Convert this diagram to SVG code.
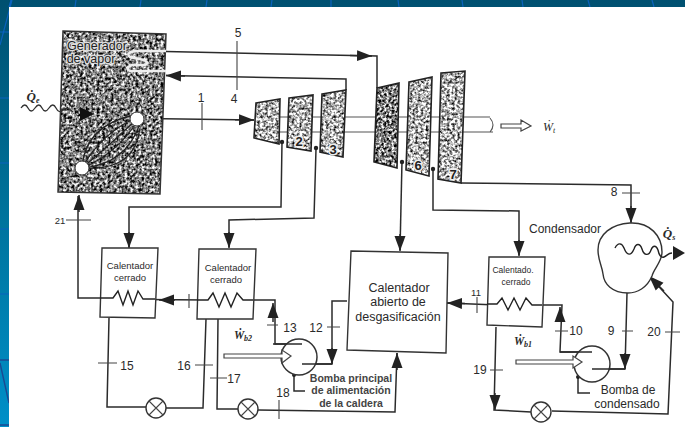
<svg xmlns="http://www.w3.org/2000/svg" width="685" height="427" viewBox="0 0 685 427">
<style>
text{font-family:"Liberation Sans",Arial,sans-serif;fill:#2a2a2a;text-anchor:middle}
.l{fill:none;stroke:#2b2b2b;stroke-width:1.5}
.t{fill:none;stroke:#444;stroke-width:1.1}
.a{fill:none;stroke:#2b2b2b;stroke-width:1.5;marker-end:url(#ah)}
.n{font-size:12px}
.h{font-size:13px;font-weight:bold;fill:#222;stroke:#eee;stroke-width:3;paint-order:stroke}
.s{font-size:9.5px}
.b{font-size:10.5px;font-weight:bold;fill:#444}
.box{fill:#fff;stroke:#333;stroke-width:1.4}
.tb{stroke:#222;stroke-width:1.6;fill:none}
.hol{fill:#fff;stroke:#444;stroke-width:1.2}
.g{fill:none;stroke:#222;stroke-width:1.3}
.d{fill:#222}
.m{font-family:"Liberation Serif",serif;font-style:italic}
</style>
<defs>
<linearGradient id="bg" x1="0" y1="0" x2="0" y2="1"><stop offset="0" stop-color="#005070"/><stop offset="0.5" stop-color="#00739c"/><stop offset="1" stop-color="#008fc8"/></linearGradient>
<marker id="ah" markerUnits="userSpaceOnUse" markerWidth="16" markerHeight="12" refX="15" refY="6" orient="auto"><path d="M0 0.5L15 6L0 11.5z" fill="#222"/></marker>
<filter id="dark" x="0" y="0" width="1" height="1" color-interpolation-filters="sRGB"><feTurbulence type="fractalNoise" baseFrequency="0.36" numOctaves="2" seed="4"/><feColorMatrix type="matrix" values="2.200 0 0 0 -0.6 2.200 0 0 0 -0.6 2.200 0 0 0 -0.6 0 0 0 0 1"/><feGaussianBlur stdDeviation="0.6"/><feComposite in2="SourceAlpha" operator="in"/></filter>
<filter id="mid" x="0" y="0" width="1" height="1" color-interpolation-filters="sRGB"><feTurbulence type="fractalNoise" baseFrequency="0.38" numOctaves="2" seed="9"/><feColorMatrix type="matrix" values="2.400 0 0 0 -0.7 2.400 0 0 0 -0.7 2.400 0 0 0 -0.7 0 0 0 0 1"/><feGaussianBlur stdDeviation="0.5"/><feComposite in2="SourceAlpha" operator="in"/></filter>
<filter id="lite" x="0" y="0" width="1" height="1" color-interpolation-filters="sRGB"><feTurbulence type="fractalNoise" baseFrequency="0.38" numOctaves="2" seed="15"/><feColorMatrix type="matrix" values="2.200 0 0 0 -0.4 2.200 0 0 0 -0.4 2.200 0 0 0 -0.4 0 0 0 0 1"/><feGaussianBlur stdDeviation="0.5"/><feComposite in2="SourceAlpha" operator="in"/></filter>
</defs>

<g id="background">
<rect width="685" height="427" fill="url(#bg)"/>
<path d="M11 0L9 7M76 0L75 7M141 0L140 7M207 0L206 7M272 0L271 7M331 0V7M398 0L399 7M462 0L463 7M522 0L523 7M588 0L590 7M652 0L654 7M12 0L0 45M0 32H9M0 98H9M0 163H9M0 229H9M0 294H9" stroke="#0a62bd" stroke-width="1.200" fill="none"/>
<path d="M0 360H9M0 425H9M0 363L9 403" stroke="#1b4a92" stroke-width="1.400" fill="none"/>
<rect x="9" y="7" width="676" height="420" fill="#fff"/>
</g>

<g id="connectors">
<path class="l" d="M166 51.500L377 56V88"/>
<path class="a" d="M350 55.500L372 56"/>
<path class="l" d="M346 90V79L166 75.500"/>
<path class="a" d="M185 76L166 75.500"/>
<path class="l" d="M146 118.500L254 120"/>
<path class="a" d="M235 119.700L254 120"/>
<path class="l" d="M282 142L281 207H129V247"/>
<path class="a" d="M129 232V248"/>
<path class="l" d="M316 149L314 218L229 220V247"/>
<path class="a" d="M229 232V248"/>
<path class="l" d="M402 161L400 250"/>
<path class="a" d="M400 234V251"/>
<path class="l" d="M433 169V210L519 211V255"/>
<path class="a" d="M519 240V256"/>
<path class="l" d="M461 183L631 185V222"/>
<path class="a" d="M631 206V223"/>
<path class="l" d="M78 196V298H113"/>
<path class="a" d="M79 212L79 195"/>
<path class="l" d="M145 299.500L207 300"/>
<path class="a" d="M175 300H159"/>
<path class="l" d="M245 300H275V344H302"/>
<path class="a" d="M273 322V303"/>
<path class="l" d="M347 301H332V364H302"/>
<path class="a" d="M332 348V364"/>
<path class="l" d="M109 318L107 407H146M166 408H203L206 319"/>
<path class="l" d="M218 319L217 409H238M258 410L395 412L397 353"/>
<path class="a" d="M397 370V353"/>
<path class="l" d="M447 303L497 305M532 305H562L560 352H592"/>
<path class="a" d="M465 303.500L447 303"/>
<path class="a" d="M560 322V307"/>
<path class="l" d="M592 369H625L627 293"/>
<path class="a" d="M625 353V369"/>
<path class="l" d="M552 411L668 414L673 302L650 277"/>
<path class="a" d="M664 291L649 276"/>
<path class="l" d="M496 327L494 410L531 412"/>
<path class="a" d="M495 393V410"/>
<path class="l" d="M294 375V391H305M578 377V393H590"/>
<path class="t" d="M202 103V130M237 41V90M622 193H640M98 363H117M195 365H213M210 378H227M279 400V419M267 325H278M327 327H340M189 294V308M477 297V313M555 331H568M622 331H633M665 332H680M490 370H503M66 220H91"/>
<circle class="d" cx="282" cy="142" r="2.200"/><circle class="d" cx="316" cy="148" r="2.200"/><circle class="d" cx="402" cy="162" r="2.200"/><circle class="d" cx="433" cy="169" r="2.200"/><circle class="d" cx="294" cy="375" r="2"/><circle class="d" cx="578" cy="377" r="2"/>
</g>

<g id="steam-generator">
<path d="M63 31L166 34L160 194L58 192z" fill="#000" filter="url(#dark)"/>
<path d="M63 31L166 34L160 194L58 192z" fill="none" stroke="#333" stroke-width="1.500"/>
<path d="M166 51H135Q125 53 130 57L144 60Q150 63 144 65H132Q124 68 130 71H166" fill="none" stroke="#eee" stroke-width="2.500"/>
<path class="g" d="M82 168Q85 125 135 115M82 168Q100 135 135 118M82 168Q110 145 136 120M82 168Q115 155 137 122M82 168Q125 165 140 124M82 168Q135 172 140 128"/>
<text x="97" y="50" style="font-size:12.500px;fill:#222;stroke:#ddd;stroke-width:2.500;paint-order:stroke">Generador</text>
<text x="91" y="63" style="font-size:12.500px;fill:#222;stroke:#ddd;stroke-width:2.500;paint-order:stroke">de vapor</text>
<circle cx="137" cy="119" r="7" fill="#fff" stroke="#333"/>
<circle cx="82" cy="168" r="7" fill="#fff" stroke="#333"/>
<path d="M80 107L94 114L80 121z" fill="#111"/>
</g>

<g id="heat-input">
<path d="M21 108q4 -6 7 0t7 0t7 0t7 0t7 0t7 2t10 2" fill="none" stroke="#333" stroke-width="1.300"/>
<text x="33" y="101" class="m" style="font-size:13px;font-weight:bold">Q̇<tspan font-size="8" dy="2">e</tspan></text>
</g>

<g id="turbines">
<path d="M280 117H490M280 132H493M490 118Q496 125 490 132" fill="none" stroke="#555" stroke-width="1.100"/>
<g id="turbine-1"><path d="M256 103L280 99L279 144L254 138z" fill="#000" filter="url(#lite)"/><path class="tb" d="M256 103L280 99L279 144L254 138z"/></g>
<g id="turbine-2"><path d="M289 98L313 95L311 151L287 147z" fill="#000" filter="url(#lite)"/><path class="tb" d="M289 98L313 95L311 151L287 147z"/><text x="299" y="146" class="h">2</text></g>
<g id="turbine-3"><path d="M322 94L346 90L343 157L320 152z" fill="#000" filter="url(#lite)"/><path class="tb" d="M322 94L346 90L343 157L320 152z"/><text x="333" y="154" class="h">3</text></g>
<g id="turbine-4"><path d="M377 88L399 83L397 168L374 162z" fill="#000" filter="url(#mid)"/><path class="tb" d="M377 88L399 83L397 168L374 162z"/></g>
<g id="turbine-5"><path d="M409 82L432 77L429 176L406 170z" fill="#000" filter="url(#lite)"/><path class="tb" d="M409 82L432 77L429 176L406 170z"/><text x="418" y="170" class="h">6</text></g>
<g id="turbine-6"><path d="M441 73L465 71L461 183L438 179z" fill="#000" filter="url(#lite)"/><path class="tb" d="M441 73L465 71L461 183L438 179z"/><text x="453" y="179" class="h">7</text></g>
<path class="hol" d="M501 124H521V120L531 126L521 131V128H501z"/>
<text x="549" y="131" class="m" style="font-size:12px">Ẇ<tspan font-size="8" dy="2">t</tspan></text>
</g>

<g id="heater-closed-1">
<path class="box" d="M102 248H158L155 318L100 317z"/>
<text x="130" y="269" class="s">Calentador</text><text x="130" y="281" class="s">cerrado</text>
<path class="g" style="stroke-width:1.400" d="M100 298H113L118 291L123 305L128 291L133 305L138 291L143 299H155"/>
</g>
<g id="heater-closed-2">
<path class="box" d="M199 249H256L253 319L197 319z"/>
<text x="228" y="271" class="s">Calentador</text><text x="226" y="283" class="s">cerrado</text>
<path class="g" style="stroke-width:1.400" d="M197 300H208L213 293L219 307L225 293L231 307L237 293L243 300H253"/>
</g>
<g id="heater-closed-3">
<path class="box" d="M489 257H545L542 327L487 325z"/>
<text x="513" y="273" style="font-size:8.500px">Calentado.</text><text x="516" y="285" style="font-size:8.500px">cerrado</text>
<path class="g" style="stroke-width:1.400" d="M487 304H497L502 298L508 310L514 298L520 310L526 298L532 305H542"/>
</g>
<g id="heater-open">
<path class="box" d="M351 251L448 253L446 353L347 350z"/>
<text x="399" y="292" style="font-size:12.500px">Calentador</text>
<text x="398" y="306" style="font-size:12.500px">abierto de</text>
<text x="398" y="321" style="font-size:12.500px">desgasificación</text>
</g>

<g id="condenser">
<path class="box" d="M630 223C650 222 662 236 662 252C662 262 654 268 652 276C647 288 637 293 628 293C612 293 604 284 603 274C602 266 598 260 598 250C598 234 612 224 630 223z"/>
<path class="g" style="stroke-width:1.400" d="M615 248C618 242 622 243 624 248C627 256 631 256 634 249C636 243 640 243 642 249C644 256 649 256 651 250C653 245 656 245 658 250C659 255 661 258 664 257C667 256 668 253 672 253"/>
<path d="M673 246L685 253L673 260z" fill="#222"/>
<text x="565" y="233" class="n">Condensador</text>
<text x="669" y="238" class="m" style="font-size:13px;font-weight:bold">Q̇<tspan font-size="8" dy="2">s</tspan></text>
</g>

<g id="pump-main">
<circle cx="299" cy="357" r="18" fill="#fff" stroke="#333" stroke-width="1.500"/>
<path class="l" d="M273 344H302M302 364H332"/>
<path class="hol" d="M224 354H282V350L291 356L282 363V358H224z"/>
<text x="243" y="339" class="m" style="font-size:11.500px;font-weight:bold">Ẇ<tspan font-size="8" dy="2">b2</tspan></text>
</g>
<g id="pump-condensate">
<circle cx="592" cy="364" r="18" fill="#fff" stroke="#333" stroke-width="1.500"/>
<path class="l" d="M560 352H592M592 369H625"/>
<path class="hol" d="M516 360H573V356L582 362L573 368V364H516z"/>
<text x="523" y="345" class="m" style="font-size:11.500px;font-weight:bold">Ẇ<tspan font-size="8" dy="2">b1</tspan></text>
</g>

<g id="valve-1"><circle cx="156" cy="408" r="10" fill="#fff" stroke="#333" stroke-width="1.400"/><path class="t" d="M149 401L163 415M163 401L149 415"/></g>
<g id="valve-2"><circle cx="248" cy="409" r="10" fill="#fff" stroke="#333" stroke-width="1.400"/><path class="t" d="M241 402L255 416M255 402L241 416"/></g>
<g id="valve-3"><circle cx="541" cy="412" r="10" fill="#fff" stroke="#333" stroke-width="1.400"/><path class="t" d="M534 405L548 419M548 405L534 419"/></g>

<g id="labels">
<text x="238" y="37" class="n">5</text><text x="234" y="103" class="n">4</text><text x="201" y="102" class="n">1</text>
<text x="614" y="196" class="n">8</text><text x="60" y="224" class="s">21</text>
<text x="127" y="370" class="n">15</text><text x="184" y="370" class="n">16</text><text x="234" y="383" class="n">17</text><text x="283" y="397" class="n">18</text>
<text x="290" y="332" class="n">13</text><text x="316" y="332" class="n">12</text><text x="476" y="296" class="s">11</text>
<text x="576" y="335" class="n">10</text><text x="611" y="335" class="n">9</text><text x="654" y="336" class="n">20</text><text x="480" y="374" class="n">19</text>
<text x="351" y="382" class="b">Bomba principal</text><text x="351" y="394" class="b">de alimentación</text><text x="351" y="407" class="b">de la caldera</text>
<text x="628" y="394" class="n">Bomba de</text><text x="627" y="408" class="n">condensado</text>
</g>
</svg>
